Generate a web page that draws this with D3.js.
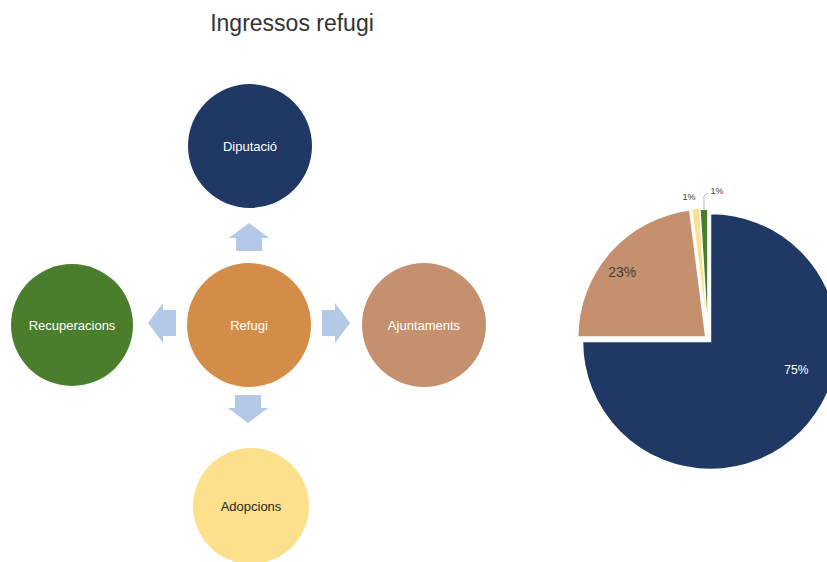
<!DOCTYPE html>
<html>
<head>
<meta charset="utf-8">
<script src="https://cdn.jsdelivr.net/npm/d3@7"></script>
<style>
  html, body { margin: 0; padding: 0; background: #ffffff; }
  svg { display: block; font-family: "Liberation Sans", Arial, sans-serif; }
</style>
</head>
<body>
<svg id="chart" width="827" height="562"></svg>
<script>
// ---------- DATA ----------
const title = "Ingressos refugi";

// Diagram nodes
const nodeNames = ["Diputació", "Refugi", "Ajuntaments", "Adopcions", "Recuperacions"];
const nodeColors = ["#203864", "#d38d48", "#c4906e", "#fde08c", "#4a7d2c"];
const nodeTextColors = ["#ffffff", "#ffffff", "#ffffff", "#262626", "#ffffff"];

// Pie data
const pieCategories = ["Diputació", "Ajuntaments", "Adopcions", "Recuperacions"];
const pieValues = [75, 23, 1, 1];
const pieLabels = ["75%", "23%", "1%", "1%"];
const pieColors = ["#203864", "#c4906e", "#fde08c", "#4a7d2c"];

// ---------- LAYOUT ----------
const svg = d3.select("#chart");

svg.append("text")
  .attr("x", 292).attr("y", 31)
  .attr("text-anchor", "middle")
  .attr("font-size", 23)
  .attr("fill", "#333333")
  .text(title);

// diagram layout: center node and four satellites
const hub = { x: 249, y: 325 };
const nodePos = [
  { x: 250, y: 146, r: 62 },   // Diputació (up)
  { x: hub.x, y: hub.y, r: 62 }, // Refugi
  { x: 424, y: 325, r: 62 },   // Ajuntaments (right)
  { x: 251, y: 506, r: 58 },   // Adopcions (down)
  { x: 72, y: 325, r: 61 }     // Recuperacions (left)
];

const g = svg.append("g");

// arrows (pointing outward from hub)
const arrowColor = "#b4c8e8";
// shape defined pointing up, tip at (0,0)
function arrowPath(len, headLen, headHalf, stemHalf) {
  const p = d3.path();
  p.moveTo(0, 0);
  p.lineTo(headHalf, headLen);
  p.lineTo(stemHalf, headLen);
  p.lineTo(stemHalf, len);
  p.lineTo(-stemHalf, len);
  p.lineTo(-stemHalf, headLen);
  p.lineTo(-headHalf, headLen);
  p.closePath();
  return p.toString();
}
const arrows = [
  { x: 249, y: 223, rot: 0 },    // up
  { x: 350, y: 323, rot: 90 },   // right
  { x: 248, y: 423, rot: 180 },  // down
  { x: 148, y: 323, rot: 270 }   // left
];
g.selectAll("path.arrow")
  .data(arrows)
  .join("path")
  .attr("class", "arrow")
  .attr("d", arrowPath(28, 15, 20, 13))
  .attr("transform", d => `translate(${d.x},${d.y}) rotate(${d.rot})`)
  .attr("fill", arrowColor);

const nodes = nodeNames.map((n, i) => ({ name: n, color: nodeColors[i], tc: nodeTextColors[i], ...nodePos[i] }));

g.selectAll("circle.node")
  .data(nodes)
  .join("circle")
  .attr("class", "node")
  .attr("cx", d => d.x).attr("cy", d => d.y).attr("r", d => d.r)
  .attr("fill", d => d.color);

g.selectAll("text.node")
  .data(nodes)
  .join("text")
  .attr("class", "node")
  .attr("x", d => d.x).attr("y", d => d.y)
  .attr("dy", "0.35em")
  .attr("text-anchor", "middle")
  .attr("font-size", 13)
  .attr("fill", d => d.tc)
  .text(d => d.name);

// ---------- PIE ----------
const pc = { x: 708, y: 339 };
const R = 128;
const pie = d3.pie().sort(null).value(d => d.v);
const arcs = pie(pieValues.map((v, i) => ({ v, name: pieCategories[i], color: pieColors[i], label: pieLabels[i] })));
const arc = d3.arc().innerRadius(0).outerRadius(R);

const explode = [3.5, 3, 3, 2];
const pg = svg.append("g").attr("transform", `translate(${pc.x},${pc.y})`);

pg.selectAll("path.slice")
  .data(arcs)
  .join("path")
  .attr("class", "slice")
  .attr("d", arc)
  .attr("transform", (d, i) => {
    const a = (d.startAngle + d.endAngle) / 2;
    return `translate(${Math.sin(a) * explode[i]},${-Math.cos(a) * explode[i]})`;
  })
  .attr("fill", d => d.data.color)
  .attr("stroke", "#ffffff")
  .attr("stroke-width", 1.5);

// label placement (angle in degrees clockwise from top, radius fraction)
const labelPlace = [
  { ang: 109, rf: 0.73, size: 12, color: "#ffffff" },
  { ang: 308, rf: 0.85, size: 14, color: "#404040" }
];
labelPlace.forEach((lp, i) => {
  const a = lp.ang * Math.PI / 180;
  pg.append("text")
    .attr("x", Math.sin(a) * R * lp.rf)
    .attr("y", -Math.cos(a) * R * lp.rf)
    .attr("dy", "0.35em")
    .attr("text-anchor", "middle")
    .attr("font-size", lp.size)
    .attr("fill", lp.color)
    .text(arcs[i].data.label);
});

// small slice labels
pg.append("text")
  .attr("x", -19).attr("y", -142)
  .attr("dy", "0.35em")
  .attr("text-anchor", "middle")
  .attr("font-size", 9)
  .attr("fill", "#404040")
  .text(arcs[2].data.label);

const gA = (arcs[3].startAngle + arcs[3].endAngle) / 2;
const gx = Math.sin(gA) * R, gy = -Math.cos(gA) * R;
pg.append("path")
  .attr("d", `M${gx},${gy - 1} L${gx},${-143} L${gx + 4},${-146}`)
  .attr("fill", "none")
  .attr("stroke", "#a6a6a6")
  .attr("stroke-width", 0.8);
pg.append("text")
  .attr("x", 9).attr("y", -148)
  .attr("dy", "0.35em")
  .attr("text-anchor", "middle")
  .attr("font-size", 9)
  .attr("fill", "#404040")
  .text(arcs[3].data.label);
</script>
</body>
</html>
